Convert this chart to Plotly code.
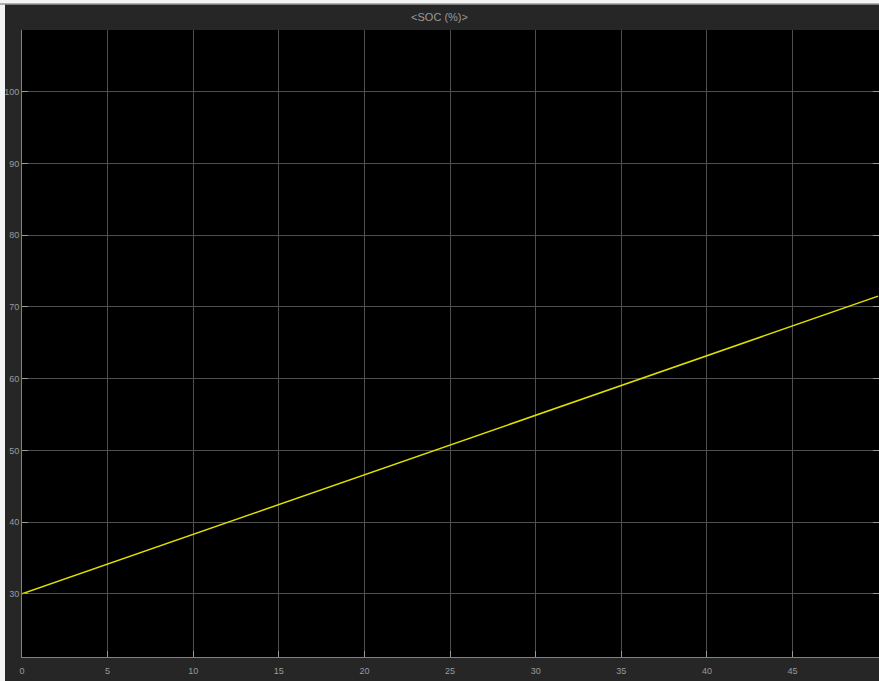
import plotly.graph_objects as go

time_s = [0, 10, 20, 30, 40, 50]
soc_pct = [30.0, 38.3, 46.6, 54.9, 63.2, 71.5]
x_ticks = [0, 5, 10, 15, 20, 25, 30, 35, 40, 45, 50]
y_ticks = [30, 40, 50, 60, 70, 80, 90, 100]
title_text = "&lt;SOC (%)&gt;"

W, H = 879, 681
ML, MR, MT, MB = 22, 0, 30, 24
pw, ph = W - ML - MR, H - MT - MB

fig = go.Figure()
fig.add_trace(go.Scatter(x=time_s, y=soc_pct, mode="lines",
                         line=dict(color="#e0e000", width=1.5),
                         hoverinfo="skip", showlegend=False))

font_tick = dict(family="Liberation Sans Narrow, Liberation Sans, Arial", size=9, color="#9a9a9a")

fig.update_layout(
    width=W, height=H,
    margin=dict(l=ML, r=MR, t=MT, b=MB, pad=0),
    paper_bgcolor="#262626",
    plot_bgcolor="#000000",
    title=dict(text=title_text, x=0.5, xanchor="center", y=1 - 17 / H, yanchor="middle",
               font=dict(family="Liberation Sans Narrow, Liberation Sans, Arial", size=11, color="#9a9a9a")),
    xaxis=dict(range=[0, 50.05], tickvals=x_ticks, ticktext=[str(v) for v in x_ticks],
               showgrid=True, gridcolor="#4f4f4f", gridwidth=1, zeroline=False,
               showline=True, linecolor="#808080", linewidth=1,
               ticks="inside", ticklen=6, tickcolor="#9a9a9a", tickfont=font_tick,
               ticklabelstandoff=5),
    yaxis=dict(range=[21.2, 108.6], tickvals=y_ticks, ticktext=[str(v) for v in y_ticks],
               showgrid=True, gridcolor="#4f4f4f", gridwidth=1, zeroline=False,
               showline=True, linecolor="#808080", linewidth=1, mirror="ticks",
               ticks="inside", ticklen=6, tickcolor="#9a9a9a", tickfont=font_tick,
               ticklabelstandoff=0),
)

def py(pix):
    return 1 - (pix - MT) / ph

def px(pix):
    return (pix - ML) / pw

fig.add_shape(type="rect", xref="paper", yref="paper", x0=px(0), x1=px(W), y0=py(0), y1=py(4),
              fillcolor="#f4f4f4", line_width=0, layer="above")
fig.add_shape(type="line", xref="paper", yref="paper", x0=px(0), x1=px(W), y0=py(4), y1=py(4),
              line=dict(color="#9a9a9a", width=1.5), layer="above")
fig.add_shape(type="rect", xref="paper", yref="paper", x0=px(0), x1=px(5), y0=py(H), y1=py(4),
              fillcolor="#f4f4f4", line_width=0, layer="below")

fig.write_html("out.html", config={"displayModeBar": False},
               post_script="document.body.style.margin='0';document.body.style.overflow='hidden';")
